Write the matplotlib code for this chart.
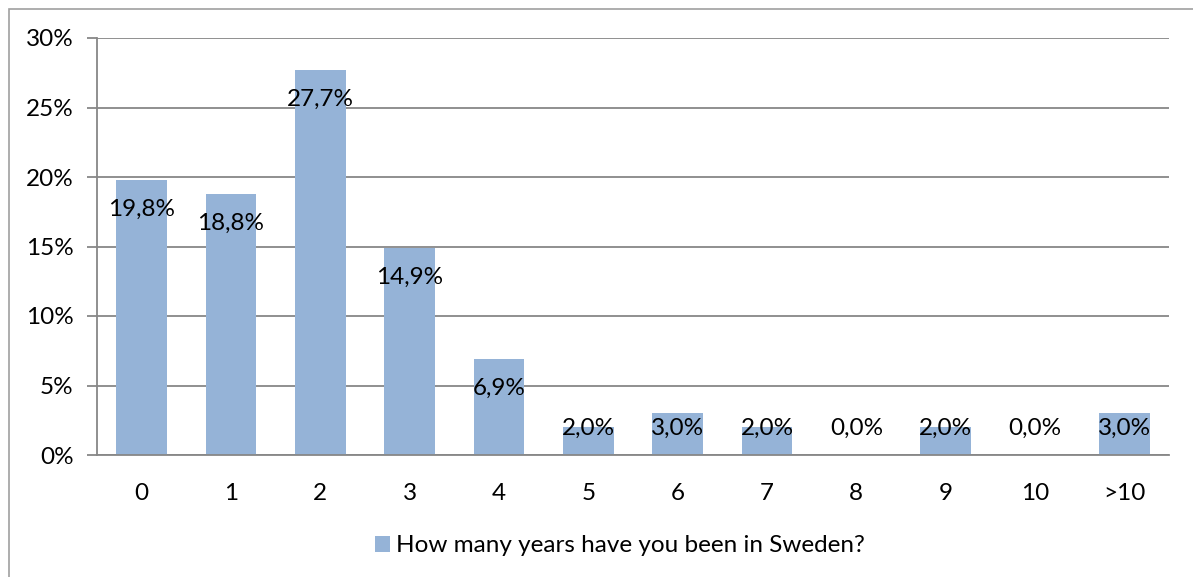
import matplotlib.pyplot as plt
from matplotlib.patches import Rectangle

categories = ['0', '1', '2', '3', '4', '5', '6', '7', '8', '9', '10', '>10']
values = [19.8, 18.8, 27.7, 14.9, 6.9, 2.0, 3.0, 2.0, 0.0, 2.0, 0.0, 3.0]
series_name = 'How many years have you been in Sweden?'
yticks = [0, 5, 10, 15, 20, 25, 30]

plt.rcParams['font.family'] = ['Lato', 'DejaVu Sans']
bar_color = '#95B3D7'
grid_color = '#878787'
fs = 17.5

fig = plt.figure(figsize=(11.93, 5.77), dpi=100)
ax = fig.add_axes([97 / 1193, 1 - 455 / 577, (1169 - 97) / 1193, (455 - 38) / 577])

x = list(range(len(categories)))
bars = ax.bar(x, values, width=0.57, color=bar_color, label=series_name, zorder=2)

for xi, v in zip(x, values):
    ypos = max(v - 2.1, 1.9)
    ax.text(xi, ypos, f'{v:.1f}%'.replace('.', ','), ha='center', va='center',
            fontsize=fs, color='black', zorder=3)

ax.set_xlim(-0.5, len(categories) - 0.5)
ax.set_ylim(0, 30)
ax.set_yticks(yticks)
ax.set_yticklabels([f'{t}%' for t in yticks], fontsize=fs)
ax.set_xticks(x)
ax.set_xticklabels(categories, fontsize=fs)
ax.tick_params(axis='x', length=0, pad=20)
ax.tick_params(axis='y', length=7, width=1.3, color=grid_color, pad=10)
ax.yaxis.grid(True, color=grid_color, linewidth=1.3, zorder=0)
ax.set_axisbelow(True)
for side in ['top', 'right']:
    ax.spines[side].set_visible(False)
ax.spines['left'].set_color(grid_color)
ax.spines['left'].set_linewidth(1.3)
ax.spines['bottom'].set_color(grid_color)
ax.spines['bottom'].set_linewidth(1.3)

fig.legend(handles=[bars], labels=[series_name], loc='center', bbox_to_anchor=(620 / 1193, 0.054),
           frameon=False, fontsize=fs, handlelength=0.65, handleheight=0.65, handletextpad=0.25)

fig.patches.append(Rectangle((9 / 1193, -0.1), 1.2, 1 - 9 / 577 + 0.1, transform=fig.transFigure,
                             fill=False, edgecolor='#a0a0a0', linewidth=1.2))

fig.savefig('out.png', dpi=100)
